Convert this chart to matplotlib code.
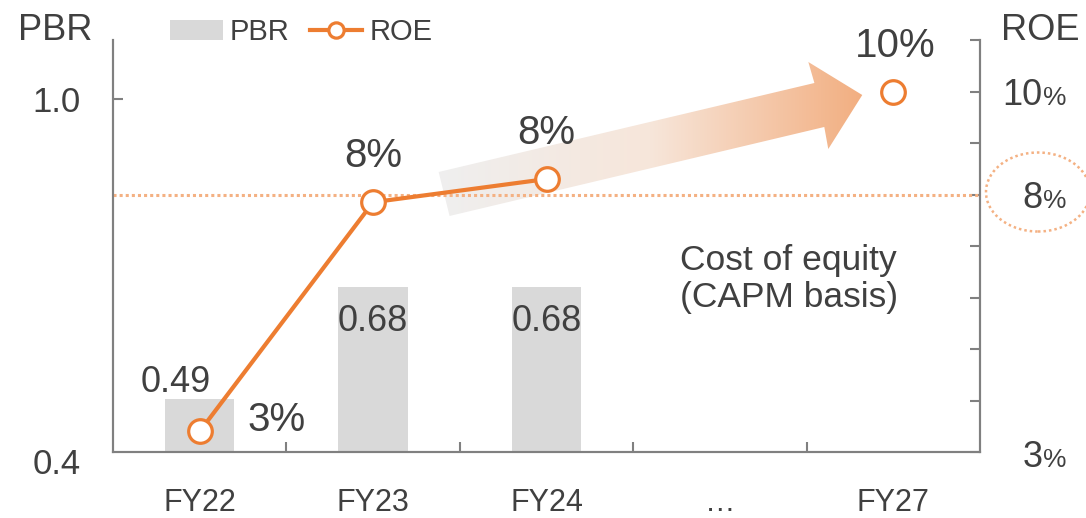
import matplotlib
matplotlib.use("Agg")
import matplotlib.pyplot as plt
import numpy as np
from matplotlib.patches import Polygon, Ellipse, Patch
from matplotlib.lines import Line2D
from matplotlib.colors import LinearSegmentedColormap

plt.rcParams['font.family'] = ['Liberation Sans', 'DejaVu Sans']

# ---------------- data ----------------
categories = ["FY22", "FY23", "FY24", "…", "FY27"]
pbr_idx = [0, 1, 2]
pbr_values = [0.49, 0.68, 0.68]
pbr_labels = ["0.49", "0.68", "0.68"]
roe_idx = [0, 1, 2]
roe_values = [3.4, 7.85, 8.3]
roe_labels = ["3%", "8%", "8%"]
target_idx = 4
target_roe = 10.0
target_label = "10%"
cost_of_equity = 8.0
right_tick_values = [10, 8, 3]

# ---------------- style ----------------
TXT = '#404040'
AXC = '#808080'
BAR = '#d9d9d9'
ORG = '#ED7D31'
LORG = '#f4b183'
DPI = 100
W, H = 1086, 518

fig = plt.figure(figsize=(W / DPI, H / DPI), dpi=DPI)
L, R, B, T = 113, 980, 452, 40
ax = fig.add_axes([L / W, (H - B) / H, (R - L) / W, (B - T) / H])
ax2 = ax.twinx()

# bars (PBR)
ax.bar(pbr_idx, pbr_values, width=0.4, color=BAR, zorder=2)
ax.set_xlim(-0.5, 4.5)
ax.set_ylim(0.4, 1.1)
ax2.set_ylim(3, 11)

ax.spines['top'].set_visible(False)
ax2.spines['top'].set_visible(False)
for a in (ax, ax2):
    for s in ['left', 'right', 'bottom']:
        a.spines[s].set_color(AXC)
        a.spines[s].set_linewidth(1.5)

# x axis
ax.set_xticks(range(len(categories)))
ax.set_xticklabels(categories, fontsize=22, color=TXT)
ax.set_xticks([0.5, 1.5, 2.5, 3.5], minor=True)
ax.tick_params(axis='x', which='major', length=0, pad=26)
ax.tick_params(axis='x', which='minor', direction='in', length=7.5, width=1.5, color=AXC)

# left axis
ax.set_yticks([1.0])
ax.set_yticklabels(["1.0"], fontsize=25, color=TXT)
ax.tick_params(axis='y', direction='in', length=7.5, width=1.5, color=AXC, pad=23)
ax.annotate("0.4", xy=(0, 0.4), xycoords=('axes fraction', 'data'),
            xytext=(-23, -9), textcoords='offset points',
            ha='right', va='center', fontsize=25, color=TXT)

# right axis
ax2.set_yticks(np.arange(3, 12, 1))
ax2.tick_params(axis='y', direction='in', length=7.5, width=1.5, color=AXC,
                labelright=False)

# PBR value labels
ax.annotate(pbr_labels[0], xy=(pbr_idx[0], pbr_values[0]), xytext=(-17, 12),
            textcoords='offset points', ha='center', va='center', fontsize=26, color=TXT)
for i in (1, 2):
    ax.annotate(pbr_labels[i], xy=(pbr_idx[i], pbr_values[i]), xytext=(0, -25),
                textcoords='offset points', ha='center', va='center', fontsize=26, color=TXT)

# gradient arrow (decoration)
arrow_pts = [(1.378, 8.437), (3.545, 10.165), (3.510, 10.573), (3.821, 9.932),
             (3.625, 8.883), (3.602, 9.311), (1.441, 7.583)]
poly = Polygon(arrow_pts, closed=True, transform=ax2.transData, facecolor='none',
               edgecolor='none')
ax2.add_patch(poly)
cmap = LinearSegmentedColormap.from_list('arr', ['#efefef', '#f7e6da', '#f2ae80'])
grad = np.linspace(0, 1, 256).reshape(1, -1)
im = ax2.imshow(grad, cmap=cmap, extent=[1.37, 3.83, 7.5, 10.6], aspect='auto',
                zorder=1, interpolation='bilinear')
im.set_clip_path(poly)
ax2.set_xlim(-0.5, 4.5)
ax2.set_ylim(3, 11)

# cost of equity dotted line
ax2.axhline(cost_of_equity, color=LORG, lw=2.2, linestyle=(0, (1, 1)), zorder=2)

# ROE line (actuals) and target marker
mk = dict(marker='o', markersize=17, markerfacecolor='white', markeredgecolor=ORG,
          markeredgewidth=2.3)
ax2.plot(roe_idx, roe_values, color=ORG, lw=3, zorder=3, clip_on=False, **mk)
ax2.plot([target_idx], [target_roe], linestyle='none', zorder=3, clip_on=False, **mk)
for i, v, lab in zip(roe_idx, roe_values, roe_labels):
    off = (55, 8) if i == 0 else (0, 33)
    ax2.annotate(lab, xy=(i, v), xytext=off, textcoords='offset points',
                 ha='center', va='center', fontsize=29, color=TXT)
ax2.annotate(target_label, xy=(target_idx, target_roe), xytext=(1, 33),
             textcoords='offset points', ha='center', va='center', fontsize=29, color=TXT)

# cost of equity text
ax2.text(0.654, 0.42, "Cost of equity\n(CAPM basis)", transform=ax.transAxes,
         fontsize=25.5, color=TXT, ha='left', va='center', linespacing=1.18)

# axis titles
fig.text(55 / W, 1 - 30 / H, "PBR", fontsize=26, color=TXT, ha='center', va='center')
fig.text(1040 / W, 1 - 30 / H, "ROE", fontsize=26, color=TXT, ha='center', va='center')

# legend
h1 = Patch(facecolor=BAR, edgecolor='none')
h2 = Line2D([], [], color=ORG, lw=3, marker='o', markersize=11,
            markerfacecolor='white', markeredgecolor=ORG, markeredgewidth=2.3)
fig.legend([h1, h2], ["PBR", "ROE"], loc='center left',
           bbox_to_anchor=(170 / W, 1 - 32 / H), ncol=2, frameon=False,
           fontsize=21, handlelength=1.8, handletextpad=0.25, columnspacing=0.7,
           borderpad=0, borderaxespad=0, labelcolor=TXT)

# right tick labels with small %
pct_texts = []
for v in right_tick_values:
    dy = -10 if v != 3 else -11
    t = ax2.annotate("%", xy=(1, v), xycoords=('axes fraction', 'data'),
                     xytext=((1066 - R) * 72 / DPI, dy), textcoords='offset points',
                     ha='right', va='baseline', fontsize=19, color=TXT)
    pct_texts.append((v, t, dy))
fig.canvas.draw()
rend = fig.canvas.get_renderer()
for v, t, dy in pct_texts:
    bb = t.get_window_extent(rend)
    ax2.annotate(str(v), xy=(1, v), xycoords=('axes fraction', 'data'),
                 xytext=((bb.x0 - R) * 72 / DPI, dy), textcoords='offset points',
                 ha='right', va='baseline', fontsize=26, color=TXT)

# dotted ellipse around 8%
ell = Ellipse((1038, H - 192), 104, 79, transform=None, fill=False,
              edgecolor=LORG, lw=1.8, linestyle=(0, (1, 1.2)), clip_on=False)
fig.add_artist(ell)

fig.savefig("out.png", dpi=DPI)
